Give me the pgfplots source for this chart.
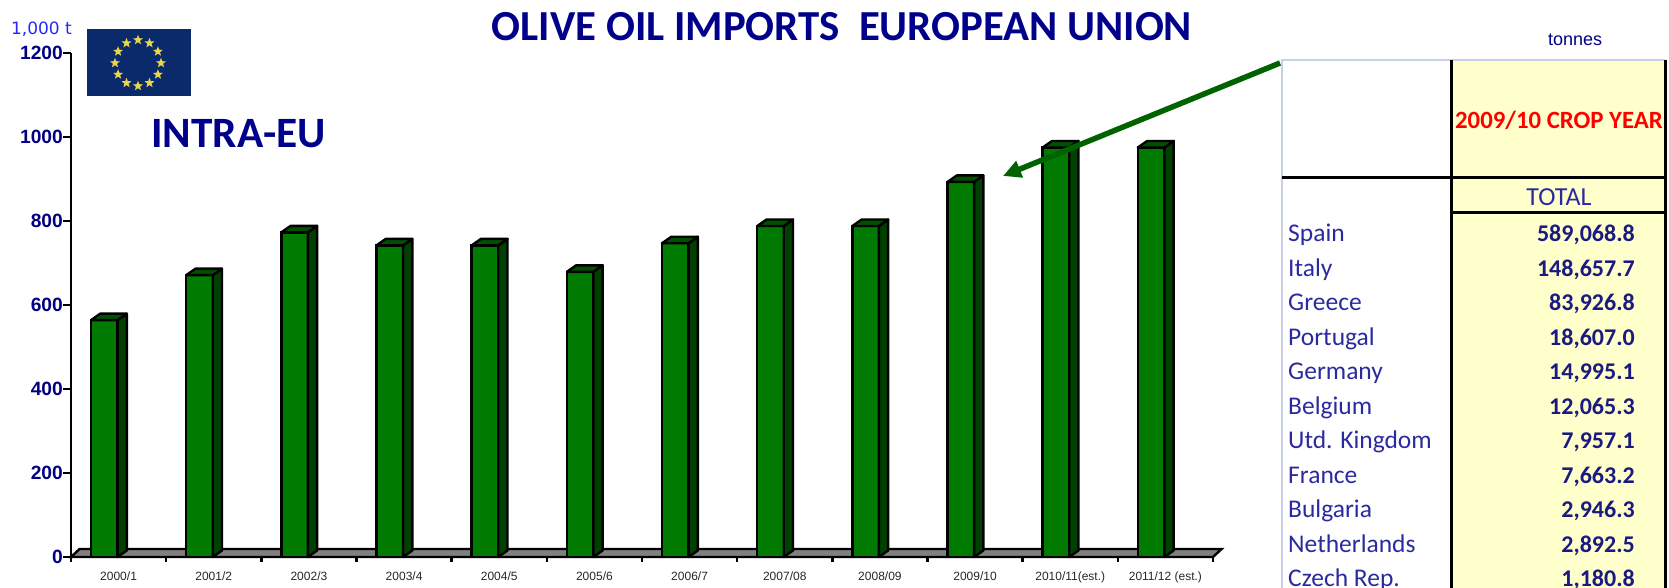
\documentclass[border=0pt]{standalone}
\usepackage{fontspec}
\setmainfont{Liberation Sans}
\newfontfamily\carl{Carlito}
\newfontfamily\djv{DejaVu Sans}
\usepackage{pgfplots}
\usepackage{pgfplotstable}
\pgfplotsset{compat=1.18}
\usetikzlibrary{shapes.geometric,arrows.meta}
\definecolor{navy}{HTML}{00008B}
\definecolor{tick}{HTML}{000080}
\definecolor{front}{HTML}{007A00}
\definecolor{side}{HTML}{004000}
\definecolor{topf}{HTML}{005000}
\definecolor{cream}{HTML}{FFFFCC}
\definecolor{flagblue}{HTML}{0A2A6B}
\definecolor{rowc}{HTML}{2A2AA0}
\definecolor{valc}{HTML}{1A1A80}
\definecolor{edgec}{HTML}{C8D0E8}
\definecolor{stary}{HTML}{E8D44D}
\pgfplotstableread{
x     v
0.35  564
1.35  671
2.35  773
3.35  742
4.35  742
5.35  679
6.35  747
7.35  788
8.35  788
9.35  893
10.35 975
11.35 975
}\bars
\pgfdeclareplotmark{box3d}{%
  \pgfmathsetlengthmacro\hh{\val*0.42pt}%
  \pgfsetlinewidth{2.4pt}\pgfsetroundjoin
  \pgfsetfillcolor{side}\pgfsetstrokecolor{black}%
  \pgfpathmoveto{\pgfqpoint{13.3pt}{0pt}}%
  \pgfpathlineto{\pgfqpoint{22.5pt}{6.5pt}}%
  \pgfpathlineto{\pgfpointadd{\pgfqpoint{22.5pt}{6.5pt}}{\pgfqpoint{0pt}{-\hh}}}%
  \pgfpathlineto{\pgfpointadd{\pgfqpoint{13.3pt}{0pt}}{\pgfqpoint{0pt}{-\hh}}}%
  \pgfpathclose\pgfusepath{fill,stroke}%
  \pgfsetfillcolor{topf}%
  \pgfpathmoveto{\pgfqpoint{-13.3pt}{0pt}}%
  \pgfpathlineto{\pgfqpoint{13.3pt}{0pt}}%
  \pgfpathlineto{\pgfqpoint{22.5pt}{6.5pt}}%
  \pgfpathlineto{\pgfqpoint{-4pt}{6.5pt}}%
  \pgfpathclose\pgfusepath{fill,stroke}%
}
\begin{document}
\begin{tikzpicture}[x=1pt,y=1pt]
\path[use as bounding box] (0,0) rectangle (1669,588);
% table
\fill[cream] (1451,0) rectangle (1665,528);
\draw[line width=1.5pt,draw=edgec] (1665,528) -- (1282,528) -- (1282,0);
\draw[line width=3pt] (1451,528) -- (1451,0);
\draw[line width=3pt] (1665,528) -- (1665,0);
\draw[line width=3pt] (1282,410) -- (1665,410);
\draw[line width=3pt] (1451,375) -- (1665,375);
\node[font=\fontsize{18}{20}\selectfont,text=navy] at (1575,548) {tonnes};
\node[font=\carl\bfseries\fontsize{24.8}{27}\selectfont,text=red] at (1559,468) {2009/10 CROP YEAR};
\node[font=\carl\fontsize{26}{28}\selectfont,text=rowc] at (1559,391) {TOTAL};
\foreach \n/\w [count=\i from 0] in {Spain/{589,068.8},Italy/{148,657.7},Greece/{83,926.8},Portugal/{18,607.0},Germany/{14,995.1},Belgium/{12,065.3},Utd. Kingdom/{7,957.1},France/{7,663.2},Bulgaria/{2,946.3},Netherlands/{2,892.5},Czech Rep./{1,180.8}}{
  \pgfmathsetmacro\yy{354-34.5*\i-8}
  \node[anchor=base west,font=\carl\fontsize{25.5}{27}\selectfont,text=rowc,inner sep=0pt] at (1288,\yy) {\n};
  \node[anchor=base east,font=\carl\bfseries\fontsize{24}{26}\selectfont,text=valc,inner sep=0pt] at (1635,\yy) {\w};
}
% axis
\begin{axis}[
  at={(71pt,31pt)},anchor=south west,scale only axis,
  width=1142pt,height=504pt,
  xmin=0,xmax=12,ymin=0,ymax=1200,
  clip=false,
  axis lines=left,
  axis line style={-,line width=2.4pt,black},
  tick style={line width=2.4pt,black},
  major tick length=5pt,
  ytick style={xscale=1.6},
  tick align=outside,
  xtick={0,1,2,3,4,5,6,7,8,9,10,11,12},
  x tick label as interval,
  xticklabels={2000/1,2001/2,2002/3,2003/4,2004/5,2005/6,2006/7,2007/08,2008/09,2009/10,2010/11(est.),2011/12 (est.)},
  xticklabel style={font=\fontsize{12}{14}\selectfont,text=black!85,yshift=-6pt},
  ytick={0,200,400,600,800,1000,1200},
  yticklabels={0,200,400,600,800,1000,1200},
  yticklabel style={font=\bfseries\fontsize{19.2}{21}\selectfont,text=tick,inner sep=0pt,xshift=-3pt},
]
\addplot[fill=gray,draw=black,line width=2.4pt] coordinates {(0,0) (12,0) (12.09,19) (0.09,19)} -- cycle;
\addplot[scatter,only marks,mark=box3d,
  visualization depends on={\thisrow{v} \as \val},
  scatter/@pre marker code/.code={},scatter/@post marker code/.code={}]
  table[x=x,y=v] {\bars};
\addplot[ybar,bar width=26.6pt,bar shift=0pt,fill=front,draw=black,line width=2.4pt] table[x=x,y=v] {\bars};
\end{axis}
% flag
\fill[flagblue] (87,492) rectangle (191,559);
\foreach \a in {0,30,...,330}
  \node[star,star points=5,star point ratio=2.4,fill=stary,inner sep=0pt,minimum size=10.5pt] at ({138+23*cos(\a)},{525+23*sin(\a)}) {};
% texts
\node[font=\djv\fontsize{17}{19}\selectfont,text=blue!85!white,anchor=east,inner sep=0pt] at (72,559) {1,000 t};
\node[font=\carl\bfseries\fontsize{43.3}{46}\selectfont,text=navy] at (238.5,454) {INTRA-EU};
\node[font=\carl\bfseries\fontsize{42.8}{46}\selectfont,text=navy] at (842,561) {OLIVE OIL IMPORTS\ \ EUROPEAN UNION};
\draw[draw=green!39!black,line width=5.5pt,-{Triangle[length=18pt,width=17pt]}] (1280,525) -- (1003,412);
\end{tikzpicture}
\end{document}
